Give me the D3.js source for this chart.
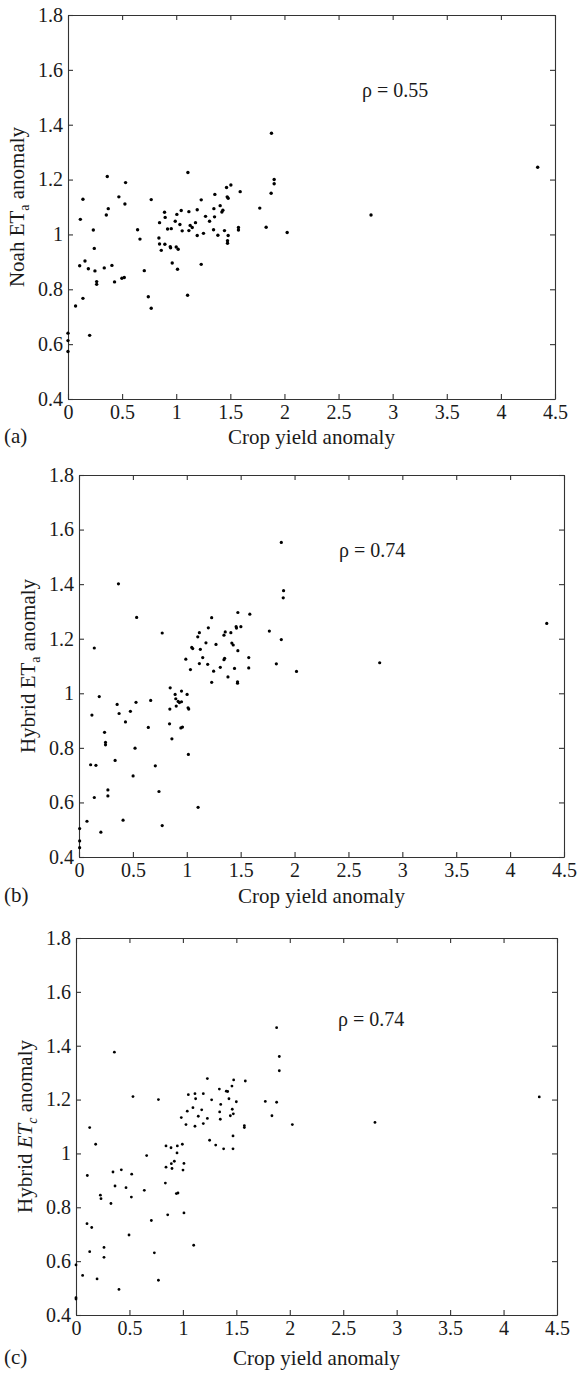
<!DOCTYPE html>
<html>
<head>
<meta charset="utf-8">
<script src="https://cdn.jsdelivr.net/npm/d3@7"></script>
<style>
  body { margin: 0; background: #fff; }
  svg text { font-family: "Liberation Serif", "DejaVu Serif", serif; fill: #1a1a1a; }
  .axis path, .axis line { stroke: #333; stroke-width: 1.1; }
  .axis text { font-size: 20px; }
  .dot { fill: #000; }
</style>
</head>
<body>
<div id="chart"></div>
<script>
// shared tick values
const xTicks = [0, 0.5, 1, 1.5, 2, 2.5, 3, 3.5, 4, 4.5];
const yTicks = [0.4, 0.6, 0.8, 1, 1.2, 1.4, 1.6, 1.8];
const xTitle = "Crop yield anomaly";

// (a) crop yield anomaly vs Noah ETa anomaly
const noahPoints = [
  [0,0.64],[0,0.613],[0,0.573],[0.07,0.739],[0.108,0.886],[0.114,1.055],[0.138,1.128],[0.138,0.767],
  [0.157,0.903],[0.188,0.875],[0.2,0.632],[0.234,1.016],[0.243,0.949],[0.249,0.867],[0.265,0.828],
  [0.265,0.818],[0.335,0.878],[0.354,1.071],[0.363,1.211],[0.372,1.094],[0.406,0.887],[0.43,0.827],
  [0.47,1.137],[0.498,0.84],[0.52,0.843],[0.526,1.111],[0.532,1.189],[0.643,1.017],[0.665,0.983],
  [0.705,0.868],[0.742,0.773],[0.769,0.731],[0.769,1.127],[0.84,0.987],[0.846,0.965],[0.846,1.043],
  [0.862,0.942],[0.892,1.081],[0.898,1.062],[0.895,0.964],[0.92,1.02],[0.945,0.955],[0.954,1.021],
  [0.948,0.951],[0.963,0.896],[0.991,1.048],[1.0,0.954],[1.006,1.073],[1.018,0.946],[1.012,0.873],
  [1.034,1.036],[1.046,1.087],[1.055,1.013],[1.108,1.226],[1.105,0.778],[1.117,1.083],[1.117,1.014],
  [1.129,1.033],[1.148,1.025],[1.178,1.043],[1.194,1.09],[1.194,0.996],[1.231,1.126],[1.231,0.891],
  [1.252,1.004],[1.271,1.066],[1.308,1.048],[1.345,1.017],[1.348,1.094],[1.354,1.064],[1.357,1.146],
  [1.385,0.997],[1.406,1.105],[1.422,1.082],[1.431,1.088],[1.446,1.014],[1.465,1.171],[1.471,1.137],
  [1.48,1.132],[1.48,0.996],[1.474,0.977],[1.474,0.968],[1.505,1.18],[1.575,1.025],[1.575,1.016],
  [1.591,1.156],[1.772,1.096],[1.831,1.026],[1.877,1.15],[1.88,1.369],[1.905,1.2],[1.905,1.185],
  [2.025,1.007],[2.8,1.071],[4.34,1.245]
];

// (b) crop yield anomaly vs Hybrid ETa anomaly
const hybridAPoints = [
  [0.006,0.504],[0.006,0.459],[0.006,0.434],[0.074,0.531],[0.108,0.738],[0.12,0.92],[0.142,1.166],
  [0.142,0.618],[0.157,0.736],[0.188,0.988],[0.203,0.491],[0.237,0.857],[0.246,0.82],[0.246,0.811],
  [0.268,0.646],[0.268,0.624],[0.335,0.754],[0.354,0.959],[0.366,1.401],[0.372,0.926],[0.409,0.535],
  [0.431,0.895],[0.477,0.934],[0.502,0.697],[0.52,0.799],[0.529,0.967],[0.535,1.278],[0.643,0.875],
  [0.665,0.974],[0.708,0.734],[0.742,0.64],[0.772,0.515],[0.772,1.221],[0.84,0.888],[0.843,0.942],
  [0.846,1.02],[0.862,0.833],[0.892,0.996],[0.898,0.98],[0.902,0.953],[0.92,0.97],[0.932,0.966],
  [0.945,0.873],[0.96,0.876],[0.951,1.008],[0.951,0.969],[0.991,1.125],[1.003,0.996],[1.012,0.947],
  [1.018,0.942],[1.015,0.776],[1.034,1.087],[1.046,1.168],[1.055,1.164],[1.102,1.207],[1.117,1.222],
  [1.117,1.109],[1.105,0.582],[1.126,1.161],[1.148,1.131],[1.178,1.185],[1.194,1.106],[1.2,1.24],
  [1.231,1.277],[1.231,1.04],[1.249,1.081],[1.271,1.179],[1.311,1.095],[1.345,1.213],[1.357,1.225],
  [1.351,1.128],[1.345,1.123],[1.382,1.06],[1.409,1.222],[1.418,1.184],[1.431,1.177],[1.443,1.091],
  [1.458,1.244],[1.461,1.239],[1.474,1.296],[1.474,1.156],[1.471,1.042],[1.471,1.037],[1.502,1.244],
  [1.575,1.131],[1.575,1.093],[1.585,1.29],[1.766,1.228],[1.831,1.108],[1.877,1.197],[1.877,1.553],
  [1.898,1.376],[1.895,1.35],[2.018,1.08],[2.79,1.112],[4.34,1.256]
];

// (c) crop yield anomaly vs Hybrid ETc anomaly
const hybridCPoints = [
  [0,0.586],[0,0.464],[0,0.459],[0.062,0.547],[0.106,0.918],[0.103,0.739],[0.128,1.096],[0.128,0.635],
  [0.147,0.725],[0.184,1.034],[0.197,0.534],[0.228,0.845],[0.234,0.832],[0.262,0.651],[0.262,0.614],
  [0.327,0.814],[0.346,0.931],[0.359,1.376],[0.365,0.879],[0.402,0.495],[0.424,0.939],[0.468,0.873],
  [0.496,0.697],[0.518,0.838],[0.521,0.923],[0.533,1.211],[0.639,0.863],[0.661,0.992],[0.705,0.751],
  [0.733,0.631],[0.771,1.2],[0.771,0.529],[0.836,0.89],[0.842,1.028],[0.842,0.949],[0.858,0.772],
  [0.889,1.021],[0.892,0.962],[0.898,0.944],[0.92,0.971],[0.939,0.851],[0.954,0.853],[0.945,1.002],
  [0.948,1.028],[0.985,1.133],[0.995,1.034],[1.001,0.938],[1.01,0.963],[1.01,0.779],[1.029,1.107],
  [1.041,1.157],[1.051,1.218],[1.094,1.17],[1.101,0.659],[1.113,1.222],[1.119,1.203],[1.113,1.101],
  [1.144,1.138],[1.176,1.162],[1.191,1.111],[1.191,1.222],[1.229,1.13],[1.229,1.278],[1.25,1.049],
  [1.269,1.199],[1.307,1.031],[1.341,1.239],[1.344,1.154],[1.35,1.127],[1.354,1.182],[1.381,1.017],
  [1.406,1.231],[1.419,1.23],[1.431,1.203],[1.444,1.14],[1.459,1.25],[1.462,1.164],[1.472,1.147],
  [1.469,1.065],[1.469,1.017],[1.475,1.273],[1.5,1.192],[1.575,1.103],[1.575,1.096],[1.584,1.269],
  [1.771,1.193],[1.877,1.19],[1.833,1.14],[1.877,1.467],[1.902,1.36],[1.902,1.307],[2.024,1.107],
  [2.797,1.115],[4.334,1.21]
];

const rhoLabels = ["\u03c1 = 0.55", "\u03c1 = 0.74", "\u03c1 = 0.74"];
const panelLetters = ["(a)", "(b)", "(c)"];

// layout of each panel on the page (pixels)
const panels = [
  { points: noahPoints, left: 68, right: 555, top: 15, bottom: 399, yTitle: ["Noah ", "ET", "a", " anomaly"], italic: false,
    rho: rhoLabels[0], rhoX: 362, rhoY: 97, letter: panelLetters[0], titleGap: 45, r: 1.7 },
  { points: hybridAPoints, left: 79, right: 564, top: 475, bottom: 857, yTitle: ["Hybrid ", "ET", "a", " anomaly"], italic: false,
    rho: rhoLabels[1], rhoX: 339, rhoY: 557, letter: panelLetters[1], titleGap: 46, r: 1.6 },
  { points: hybridCPoints, left: 76, right: 557, top: 938, bottom: 1315, yTitle: ["Hybrid ", "ET", "c", " anomaly"], italic: true,
    rho: rhoLabels[2], rhoX: 338, rhoY: 1026, letter: panelLetters[2], titleGap: 50, r: 1.4 }
];

const width = 577, height = 1375;
const svg = d3.select("#chart").append("svg")
  .attr("width", width)
  .attr("height", height);

panels.forEach(p => {
  const x = d3.scaleLinear().domain([0, 4.5]).range([p.left, p.right]);
  const y = d3.scaleLinear().domain([0.4, 1.8]).range([p.bottom, p.top]);
  const g = svg.append("g");
  const fmt = d => String(+d.toFixed(1));

  // four sides, ticks pointing inward
  g.append("g").attr("class", "axis")
    .attr("transform", `translate(0,${p.bottom})`)
    .call(d3.axisBottom(x).tickValues(xTicks).tickSizeInner(-5).tickSizeOuter(0).tickPadding(6).tickFormat(fmt));
  g.append("g").attr("class", "axis")
    .attr("transform", `translate(0,${p.top})`)
    .call(d3.axisTop(x).tickValues(xTicks).tickSizeInner(-5).tickSizeOuter(0).tickFormat(""));
  g.append("g").attr("class", "axis")
    .attr("transform", `translate(${p.left},0)`)
    .call(d3.axisLeft(y).tickValues(yTicks).tickSizeInner(-5).tickSizeOuter(0).tickPadding(5).tickFormat(fmt));
  g.append("g").attr("class", "axis")
    .attr("transform", `translate(${p.right},0)`)
    .call(d3.axisRight(y).tickValues(yTicks).tickSizeInner(-5).tickSizeOuter(0).tickFormat(""));

  g.selectAll(".axis text").attr("fill", "#1a1a1a").attr("font-family", null);

  // points
  g.selectAll(".dot")
    .data(p.points)
    .enter().append("circle")
    .attr("class", "dot")
    .attr("r", p.r)
    .attr("cx", d => x(d[0]))
    .attr("cy", d => y(d[1]));

  // correlation label
  g.append("text")
    .attr("x", p.rhoX)
    .attr("y", p.rhoY)
    .style("font-size", "20px")
    .text(p.rho);

  // x title
  g.append("text")
    .attr("x", (p.left + p.right) / 2)
    .attr("y", p.bottom + p.titleGap)
    .attr("text-anchor", "middle")
    .style("font-size", "21px")
    .text(xTitle);

  // panel letter
  g.append("text")
    .attr("x", 4)
    .attr("y", p.bottom + p.titleGap - 1)
    .style("font-size", "21px")
    .text(p.letter);

  // y title with subscript
  const yt = g.append("text")
    .attr("transform", `translate(${p.left - 44},${(p.top + p.bottom) / 2}) rotate(-90)`)
    .attr("text-anchor", "middle")
    .style("font-size", "21px");
  yt.append("tspan").text(p.yTitle[0]);
  yt.append("tspan").text(p.yTitle[1]).style("font-style", p.italic ? "italic" : "normal");
  yt.append("tspan").text(p.yTitle[2]).attr("dy", 5).style("font-size", "14px")
    .style("font-style", p.italic ? "italic" : "normal");
  yt.append("tspan").text(p.yTitle[3]).attr("dy", -5);
});
</script>
</body>
</html>
